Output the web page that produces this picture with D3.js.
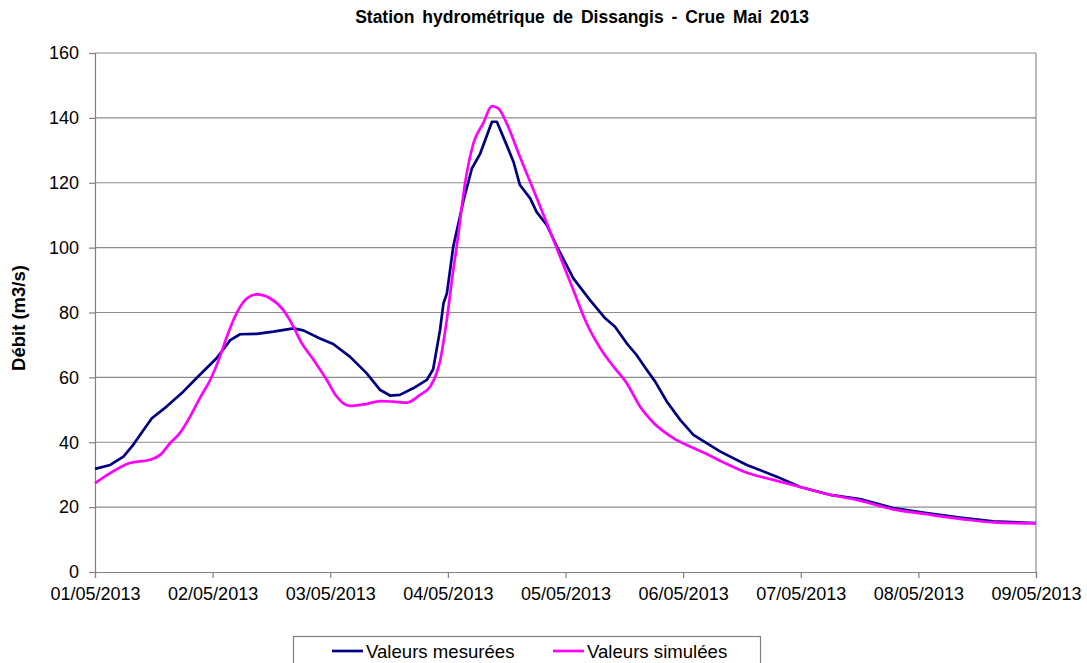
<!DOCTYPE html>
<html>
<head>
<meta charset="utf-8">
<script src="https://cdn.jsdelivr.net/npm/d3@7"></script>
<style>
  html, body { margin: 0; padding: 0; background: #fff; }
  svg { display: block; font-family: "Liberation Sans", Arial, sans-serif; }
</style>
</head>
<body>
<svg id="chart" width="1087" height="663"></svg>
<script>
// Débit à la station de Dissangis, crue de mai 2013 (heures depuis le 01/05/2013 00:00)
const measuredHours = [0, 3.1, 5.8, 7.8, 9.9, 11.6, 14.6, 18.0, 21.4, 24.8, 27.6, 29.6, 33.0, 36.4, 40.5, 42.5,
  45.9, 48.6, 52.0, 55.4, 58.2, 60.2, 62.2, 65.0, 67.7, 69.0, 70.4, 71.1, 71.8, 73.1, 75.2, 76.9, 78.6,
  81.0, 82.0, 84.0, 85.4, 86.7, 88.8, 90.1, 92.2, 94.2, 97.6, 101.0, 104.1, 106.1, 108.5, 110.5, 112.6,
  114.3, 116.7, 119.4, 122.1, 124.8, 127.6, 133.0, 139.1, 143.9, 150.0, 156.1, 162.9, 169.7, 176.5, 183.3, 192];
const measuredValues = [31.8, 33.0, 35.6, 39.2, 43.8, 47.4, 51.0, 55.6, 60.8, 65.9, 71.5, 73.3, 73.4, 74.1, 75.1, 74.5,
  72.0, 70.3, 66.4, 61.3, 56.1, 54.4, 54.6, 56.7, 59.2, 62.5, 74.6, 82.8, 85.9, 100.3, 114.6, 124.4, 129.0,
  138.8, 138.8, 131.6, 126.4, 119.3, 115.2, 111.0, 106.9, 100.5, 90.5, 83.8, 78.2, 75.6, 70.5, 66.9, 62.3,
  58.7, 52.5, 46.9, 42.3, 39.7, 37.1, 33.0, 29.4, 26.2, 23.8, 22.5, 19.7, 18.2, 16.8, 15.6, 15.1];

const simulatedHours = [0, 3.1, 7.1, 11.2, 13.3, 15.3, 17.3, 19.4, 21.4, 23.5, 25.5, 26.9, 28.9, 31.0, 33.0, 35.7,
  38.4, 40.5, 42.0, 44.6, 47.3, 49.3, 52.0, 55.4, 58.2, 60.9, 63.6, 66.3, 68.4, 69.5, 70.4, 71.8, 73.1,
  73.8, 75.5, 77.2, 79.2, 81.0, 82.3, 84.0, 86.7, 89.5, 92.2, 94.9, 97.6, 100.3, 103.1, 105.8, 108.5,
  111.2, 113.9, 118.0, 121.4, 124.8, 128.2, 133.0, 138.4, 143.9, 150.0, 156.1, 162.9, 169.7, 176.5, 183.3, 192];
const simulatedValues = [27.4, 30.5, 33.6, 34.6, 36.1, 39.7, 42.8, 47.9, 53.6, 59.2, 66.4, 72.5, 79.8, 84.4, 85.6, 84.4,
  80.8, 75.6, 71.0, 65.4, 59.2, 54.1, 51.2, 51.8, 52.7, 52.5, 52.2, 54.6, 57.2, 60.5, 65.0, 78.0, 93.1,
  100.3, 119.8, 132.1, 138.3, 143.6, 142.9, 138.3, 128.0, 117.7, 107.5, 97.2, 86.9, 76.7, 69.0, 63.3, 58.2,
  51.0, 46.1, 41.3, 38.7, 36.4, 33.8, 30.6, 28.4, 26.2, 23.8, 22.0, 19.3, 17.8, 16.4, 15.3, 15.0];

const yTicks = [0, 20, 40, 60, 80, 100, 120, 140, 160];
const xTickLabels = ["01/05/2013", "02/05/2013", "03/05/2013", "04/05/2013", "05/05/2013",
  "06/05/2013", "07/05/2013", "08/05/2013", "09/05/2013"];

const titleText = "Station hydrométrique de Dissangis - Crue Mai 2013";
const yAxisTitle = "Débit (m3/s)";
const seriesNames = ["Valeurs mesurées", "Valeurs simulées"];
const seriesColors = ["#000080", "#ff00ff"];

const start = new Date(2013, 4, 1, 0, 0);
const toDate = h => new Date(start.getTime() + h * 3600 * 1000);
const tickDates = xTickLabels.map((_, i) => toDate(i * 24));

const plot = { left: 95, right: 1036, top: 53, bottom: 572 };
const svg = d3.select("#chart");

const x = d3.scaleTime().domain([tickDates[0], tickDates[tickDates.length - 1]]).range([plot.left, plot.right]);
const y = d3.scaleLinear().domain([0, 160]).range([plot.bottom, plot.top]);

// horizontal gridlines
svg.append("g")
  .selectAll("line")
  .data(yTicks.filter(d => d > 0))
  .join("line")
  .attr("x1", plot.left).attr("x2", plot.right)
  .attr("y1", d => y(d)).attr("y2", d => y(d))
  .attr("stroke", "#8c8c8c").attr("stroke-width", 1.2);

// right edge of plot area
svg.append("line")
  .attr("x1", plot.right).attr("x2", plot.right)
  .attr("y1", plot.top).attr("y2", plot.bottom)
  .attr("stroke", "#8c8c8c").attr("stroke-width", 1.2);

// y axis
const yAxis = d3.axisLeft(y).tickValues(yTicks).tickSize(6).tickPadding(10).tickFormat(d3.format("d"));
const gy = svg.append("g").attr("transform", `translate(${plot.left},0)`).call(yAxis);
gy.select(".domain").attr("stroke", "#808080").attr("stroke-width", 1.2);
gy.selectAll(".tick line").attr("stroke", "#808080").attr("stroke-width", 1.2);
gy.selectAll(".tick text").attr("font-size", 18).attr("fill", "#000")
  .attr("font-family", "Liberation Sans, Arial, sans-serif");

// x axis
const xAxis = d3.axisBottom(x).tickValues(tickDates).tickSize(6).tickPadding(9)
  .tickFormat((d, i) => xTickLabels[i]);
const gx = svg.append("g").attr("transform", `translate(0,${plot.bottom})`).call(xAxis);
gx.select(".domain").attr("stroke", "#808080").attr("stroke-width", 1.2);
gx.selectAll(".tick line").attr("stroke", "#808080").attr("stroke-width", 1.2);
gx.selectAll(".tick text").attr("font-size", 18).attr("fill", "#000")
  .attr("font-family", "Liberation Sans, Arial, sans-serif");

// series
const measured = measuredHours.map((h, i) => ({ t: toDate(h), v: measuredValues[i] }));
const simulated = simulatedHours.map((h, i) => ({ t: toDate(h), v: simulatedValues[i] }));

const lineGen = d3.line().x(d => x(d.t)).y(d => y(d.v));

svg.append("path").datum(measured)
  .attr("d", lineGen.curve(d3.curveLinear))
  .attr("fill", "none").attr("stroke", seriesColors[0]).attr("stroke-width", 2.7)
  .attr("stroke-linejoin", "round");

svg.append("path").datum(simulated)
  .attr("d", lineGen.curve(d3.curveMonotoneX))
  .attr("fill", "none").attr("stroke", seriesColors[1]).attr("stroke-width", 2.7)
  .attr("stroke-linejoin", "round");

// title
svg.append("text")
  .attr("x", 582).attr("y", 23)
  .attr("text-anchor", "middle")
  .attr("font-size", 17.5).attr("font-weight", "bold")
  .attr("word-spacing", 3)
  .text(titleText);

// y axis title
svg.append("text")
  .attr("transform", "translate(25,318) rotate(-90)")
  .attr("text-anchor", "middle")
  .attr("font-size", 18.5).attr("font-weight", "bold")
  .text(yAxisTitle);

// legend
const legend = svg.append("g");
legend.append("rect")
  .attr("x", 293.5).attr("y", 636.5).attr("width", 467).attr("height", 40)
  .attr("fill", "#fff").attr("stroke", "#808080").attr("stroke-width", 1.2);
const legendItems = [{ x0: 332, name: seriesNames[0], color: seriesColors[0] },
                     { x0: 553, name: seriesNames[1], color: seriesColors[1] }];
legendItems.forEach(it => {
  legend.append("line")
    .attr("x1", it.x0).attr("x2", it.x0 + 31).attr("y1", 651).attr("y2", 651)
    .attr("stroke", it.color).attr("stroke-width", 2.7);
  legend.append("text")
    .attr("x", it.x0 + 34).attr("y", 658)
    .attr("font-size", 18.6)
    .text(it.name);
});
</script>
</body>
</html>
